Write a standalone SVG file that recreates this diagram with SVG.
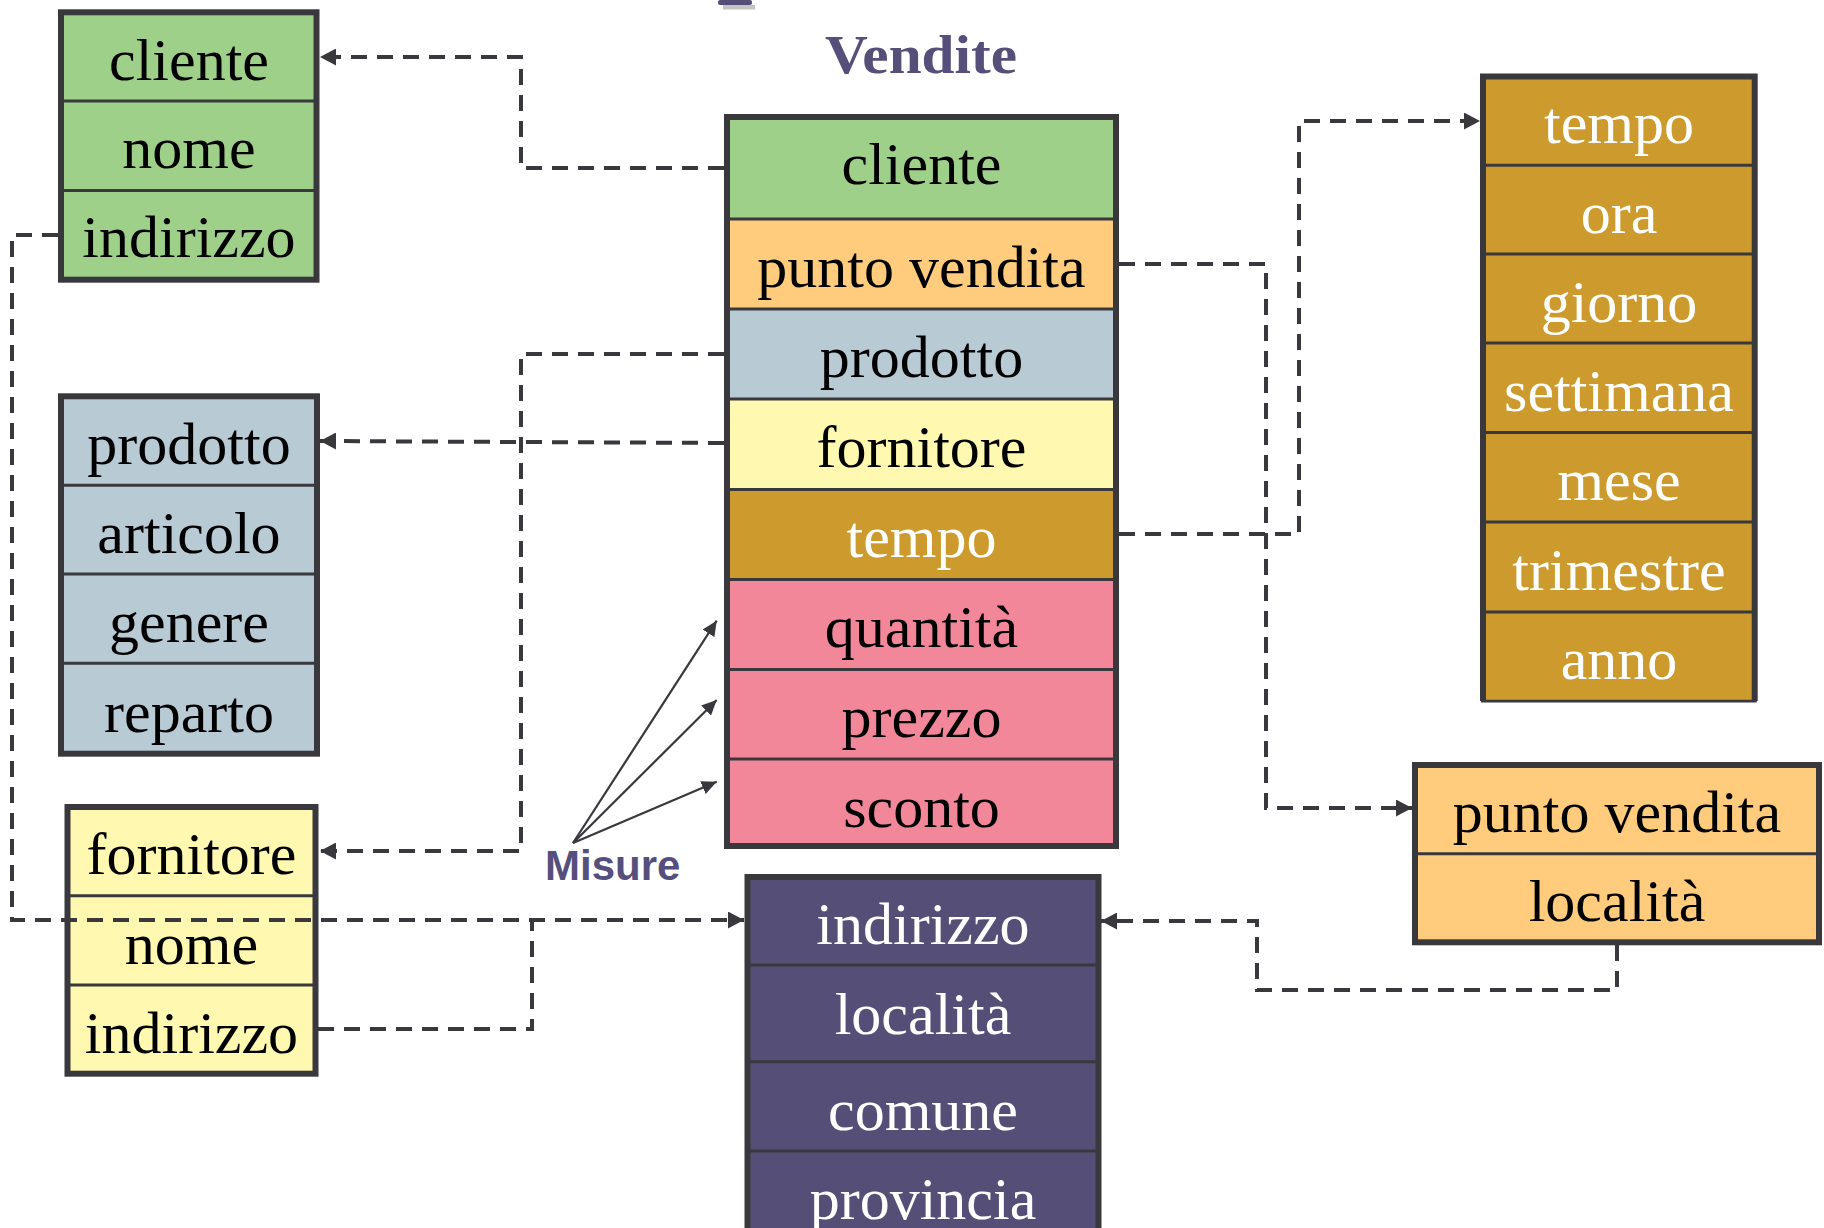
<svg xmlns="http://www.w3.org/2000/svg" width="1824" height="1228" viewBox="0 0 1824 1228">
<defs>
<style>
.t{font-family:"Liberation Serif","Times New Roman",serif;font-size:60px;text-anchor:middle;fill:#000}
.w{fill:#fff}
.box{fill:none;stroke:#39383d;stroke-width:6}
.div{stroke:#39383d;stroke-width:3}
.con{fill:none;stroke:#39383d;stroke-width:4;stroke-dasharray:16 10}
.mis{fill:none;stroke:#39383d;stroke-width:2.2}
.green{fill:#9fd08a}.orange{fill:#fecc7c}.blue{fill:#b8cbd5}.yellow{fill:#fff8b0}.gold{fill:#cd9b2d}.pink{fill:#f2879a}.purple{fill:#554f78}
</style>
<marker id="ah" markerUnits="userSpaceOnUse" markerWidth="17" markerHeight="17" refX="16" refY="8.5" orient="auto">
<path d="M0,0 L16,8.5 L0,17 z" fill="#39383d"/>
</marker>
<marker id="ah2" markerUnits="userSpaceOnUse" markerWidth="16" markerHeight="14" refX="15" refY="7" orient="auto">
<path d="M0,0 L15,7 L0,14 z" fill="#39383d"/>
</marker>
</defs>
<rect width="1824" height="1228" fill="#fff"/>

<g id="top-fragment">
<rect x="718" y="0" width="34" height="5" rx="2" fill="#554f78"/>
<rect x="723" y="5" width="32" height="4.5" fill="#c4c4c4"/>
</g>

<text id="title" x="921" y="73" font-family="Liberation Serif,serif" font-weight="bold" font-size="55" text-anchor="middle" fill="#554f7a" textLength="192" lengthAdjust="spacingAndGlyphs">Vendite</text>

<g id="cliente-dim">
<rect class="green" x="61" y="12.3" width="255.5" height="267.4"/>
<line class="div" x1="61" y1="101" x2="316.5" y2="101"/>
<line class="div" x1="61" y1="190.5" x2="316.5" y2="190.5"/>
<rect class="box" x="61" y="12.3" width="255.5" height="267.4"/>
<text class="t" x="189" y="80">cliente</text>
<text class="t" x="189" y="167.7">nome</text>
<text class="t" x="189" y="257">indirizzo</text>
</g>

<g id="prodotto-dim">
<rect class="blue" x="61" y="396.3" width="256" height="357.4"/>
<line class="div" x1="61" y1="485.3" x2="317" y2="485.3"/>
<line class="div" x1="61" y1="574" x2="317" y2="574"/>
<line class="div" x1="61" y1="663.3" x2="317" y2="663.3"/>
<rect class="box" x="61" y="396.3" width="256" height="357.4"/>
<text class="t" x="189" y="463.7">prodotto</text>
<text class="t" x="189" y="552.7">articolo</text>
<text class="t" x="189" y="642">genere</text>
<text class="t" x="189" y="732">reparto</text>
</g>

<g id="fornitore-dim">
<rect class="yellow" x="67.5" y="807" width="248" height="266.7"/>
<line class="div" x1="67.5" y1="895.7" x2="315.5" y2="895.7"/>
<line class="div" x1="67.5" y1="985" x2="315.5" y2="985"/>
<rect class="box" x="67.5" y="807" width="248" height="266.7"/>
<text class="t" x="191.5" y="873.7">fornitore</text>
<text class="t" x="191.5" y="963.7">nome</text>
<text class="t" x="191.5" y="1052.7">indirizzo</text>
</g>

<g id="vendite">
<rect class="green" x="727" y="117" width="389" height="102"/>
<rect class="orange" x="727" y="219" width="389" height="90"/>
<rect class="blue" x="727" y="309" width="389" height="90"/>
<rect class="yellow" x="727" y="399" width="389" height="90.5"/>
<rect class="gold" x="727" y="489.5" width="389" height="90"/>
<rect class="pink" x="727" y="579.5" width="389" height="267"/>
<line class="div" x1="727" y1="219" x2="1116" y2="219"/>
<line class="div" x1="727" y1="309" x2="1116" y2="309"/>
<line class="div" x1="727" y1="399" x2="1116" y2="399"/>
<line class="div" x1="727" y1="489.5" x2="1116" y2="489.5"/>
<line class="div" x1="727" y1="579.5" x2="1116" y2="579.5"/>
<line class="div" x1="727" y1="669.5" x2="1116" y2="669.5"/>
<line class="div" x1="727" y1="759" x2="1116" y2="759"/>
<rect class="box" x="727" y="117" width="389" height="729"/>
<text class="t" x="921.5" y="183.7">cliente</text>
<text class="t" x="921.5" y="287">punto vendita</text>
<text class="t" x="921.5" y="377">prodotto</text>
<text class="t" x="921.5" y="467">fornitore</text>
<text class="t w" x="921.5" y="557">tempo</text>
<text class="t" x="921.5" y="647">quantità</text>
<text class="t" x="921.5" y="737">prezzo</text>
<text class="t" x="921.5" y="827">sconto</text>
</g>

<g id="tempo-dim">
<rect class="gold" x="1483" y="76.5" width="271.7" height="623"/>
<line class="div" x1="1483" y1="165.3" x2="1754.7" y2="165.3"/>
<line class="div" x1="1483" y1="254" x2="1754.7" y2="254"/>
<line class="div" x1="1483" y1="343" x2="1754.7" y2="343"/>
<line class="div" x1="1483" y1="432.5" x2="1754.7" y2="432.5"/>
<line class="div" x1="1483" y1="522" x2="1754.7" y2="522"/>
<line class="div" x1="1483" y1="612" x2="1754.7" y2="612"/>
<path d="M1483,701 V76.5 H1754.7 V701" fill="none" stroke="#39383d" stroke-width="6"/>
<line x1="1481" y1="701" x2="1756.7" y2="701" stroke="#39383d" stroke-width="3"/>
<text class="t w" x="1619" y="143.4">tempo</text>
<text class="t w" x="1619" y="233">ora</text>
<text class="t w" x="1619" y="322">giorno</text>
<text class="t w" x="1619" y="410.6">settimana</text>
<text class="t w" x="1619" y="500">mese</text>
<text class="t w" x="1619" y="589.7">trimestre</text>
<text class="t w" x="1619" y="679">anno</text>
</g>

<g id="puntovendita-dim">
<rect class="orange" x="1415" y="765" width="404" height="177.3"/>
<line class="div" x1="1415" y1="853.7" x2="1819" y2="853.7"/>
<rect class="box" x="1415" y="765" width="404" height="177.3"/>
<text class="t" x="1617" y="832">punto vendita</text>
<text class="t" x="1617" y="921.3">località</text>
</g>

<g id="indirizzo-dim">
<rect class="purple" x="747.5" y="877" width="351" height="400"/>
<line class="div" x1="747.5" y1="965" x2="1098.5" y2="965"/>
<line class="div" x1="747.5" y1="1061.7" x2="1098.5" y2="1061.7"/>
<line class="div" x1="747.5" y1="1151" x2="1098.5" y2="1151"/>
<rect class="box" x="747.5" y="877" width="351" height="400"/>
<text class="t w" x="923" y="943.7">indirizzo</text>
<text class="t w" x="923" y="1033.7">località</text>
<text class="t w" x="923" y="1130">comune</text>
<text class="t w" x="923" y="1218.7">provincia</text>
</g>

<g id="misure-label">
<text x="545" y="880" font-family="Liberation Sans,Arial,sans-serif" font-weight="bold" font-size="42" fill="#554f7d">Misure</text>
</g>

<g id="connectors">
<path class="con" d="M724,168 H521 V57 H320" marker-end="url(#ah)"/>
<path class="con" d="M724,354 H521 V851 H320" marker-end="url(#ah)"/>
<path class="con" d="M724,443 L320,441" marker-end="url(#ah)"/>
<path class="con" d="M1119,264 H1266 V808 H1412" marker-end="url(#ah)"/>
<path class="con" d="M1119,534 H1299 V121 H1480" marker-end="url(#ah)"/>
<path class="con" d="M58,235 H12 V920 H744" marker-end="url(#ah)"/>
<path class="con" d="M318,1029 H532 V920"/>
<path class="con" d="M1617,945 V990 H1257 V921 H1101" marker-end="url(#ah)"/>
<path class="mis" d="M573,843 L716.7,620.7" marker-end="url(#ah2)"/>
<path class="mis" d="M573,843 L716.7,700" marker-end="url(#ah2)"/>
<path class="mis" d="M573,843 L716.7,781.7" marker-end="url(#ah2)"/>
</g>
</svg>
